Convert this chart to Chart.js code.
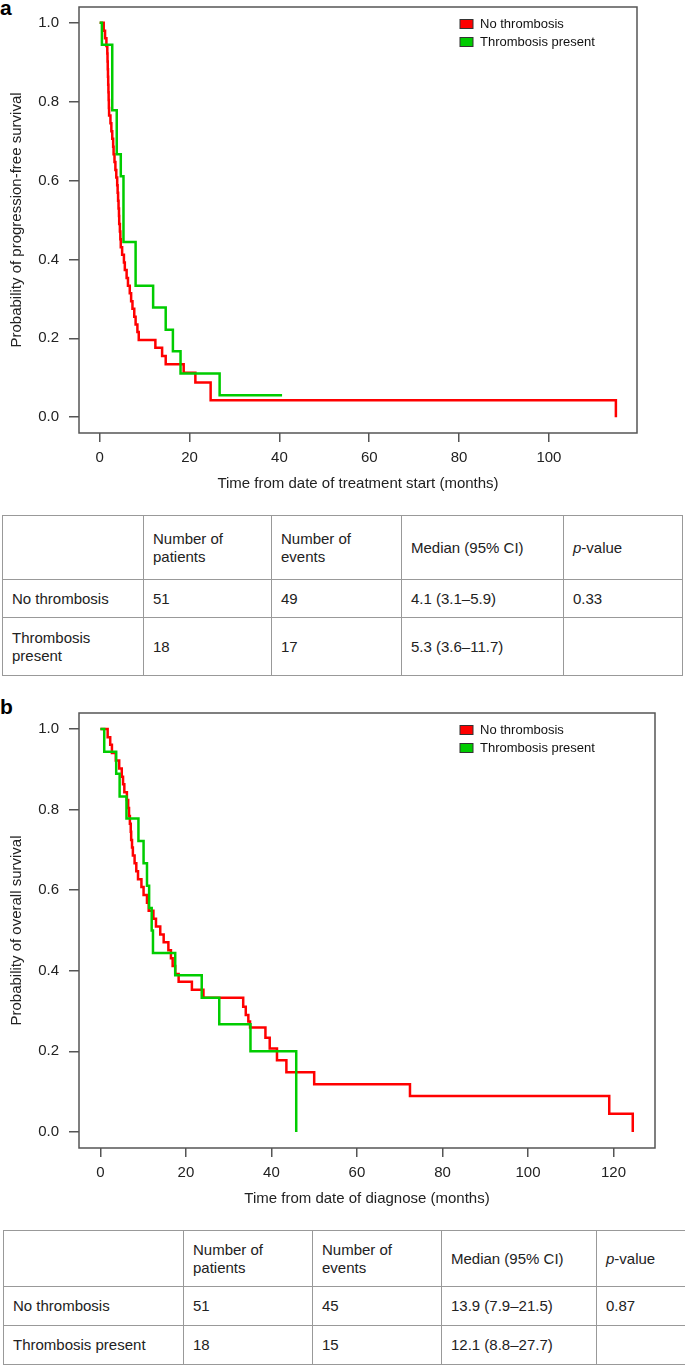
<!DOCTYPE html>
<html>
<head>
<meta charset="utf-8">
<script src="https://cdn.jsdelivr.net/npm/chart.js@4/dist/chart.umd.min.js"></script>
<style>
  body { margin: 0; background: #fff; width: 685px; height: 1366px; position: relative; overflow: hidden;
         font-family: "Liberation Sans", Arial, sans-serif; color: #222; }
  canvas { position: absolute; left: 0; }
  .panel { position: absolute; left: 0; font-weight: bold; font-size: 21px; color: #000; }
  table { position: absolute; border-collapse: collapse; font-size: 15px; table-layout: fixed; }
  td { border: 1px solid #999; padding: 0 0 0 9px; vertical-align: middle; line-height: 18px; }
</style>
</head>
<body>
<div class="panel" style="top:-4px">a</div>
<canvas id="chartA" width="685" height="500" style="top:0"></canvas>
<table id="tableA" style="left:2px; top:515px; width:680px"></table>

<div class="panel" style="top:695px">b</div>
<canvas id="chartB" width="685" height="510" style="top:700px"></canvas>
<table id="tableB" style="left:3px; top:1230px; width:682px"></table>

<script>
// Labels des groupes
const groupes = ["No thrombosis", "Thrombosis present"];

// a : survie sans progression (mois, probabilité)
const tempsRougeA = [0, 0.9, 1.2, 1.5, 1.7, 1.75, 1.8, 1.85, 1.9, 1.95, 2.0, 2.05, 2.1, 2.4, 2.6, 2.8, 3.0, 3.1, 3.3, 3.5, 3.7, 3.9, 4.0, 4.1, 4.2, 4.3, 4.35, 4.5, 4.6, 4.7, 5.0, 5.4, 5.6, 6.0, 6.3, 6.7, 7.0, 7.3, 7.7, 8.0, 8.4, 8.7, 12.4, 13.9, 14.7, 18.7, 21.3, 24.7, 114.9];
const survieRougeA = [1, 0.980, 0.961, 0.941, 0.922, 0.902, 0.882, 0.863, 0.843, 0.824, 0.804, 0.784, 0.765, 0.745, 0.725, 0.706, 0.686, 0.667, 0.647, 0.627, 0.608, 0.588, 0.569, 0.549, 0.529, 0.510, 0.490, 0.471, 0.451, 0.431, 0.412, 0.392, 0.373, 0.353, 0.333, 0.314, 0.294, 0.275, 0.255, 0.235, 0.216, 0.196, 0.176, 0.155, 0.134, 0.113, 0.088, 0.043, 0];
const tempsVertA = [0, 0.5, 2.8, 3.8, 4.7, 5.3, 8.0, 11.9, 14.7, 16.3, 18.0, 26.7, 40.6];
const survieVertA = [1, 0.944, 0.778, 0.667, 0.611, 0.444, 0.333, 0.278, 0.222, 0.167, 0.111, 0.056, 0.056];

// b : survie globale
const tempsRougeB = [0, 1.7, 2.3, 2.7, 3.6, 4.4, 5.0, 5.3, 5.6, 6.2, 6.5, 6.7, 6.9, 7.1, 7.2, 7.4, 7.6, 8.0, 8.4, 8.8, 9.6, 10.1, 10.9, 11.3, 12.4, 13.0, 14.0, 14.8, 15.9, 16.5, 16.9, 17.5, 18.3, 21.4, 24.1, 33.4, 34.0, 34.6, 35.0, 38.6, 39.6, 41.3, 43.5, 50.0, 72.4, 119.0, 124.5];
const survieRougeB = [1, 0.980, 0.961, 0.941, 0.922, 0.902, 0.882, 0.863, 0.843, 0.824, 0.804, 0.784, 0.765, 0.745, 0.725, 0.706, 0.686, 0.667, 0.647, 0.627, 0.608, 0.588, 0.569, 0.549, 0.529, 0.510, 0.490, 0.471, 0.451, 0.431, 0.412, 0.392, 0.373, 0.353, 0.333, 0.311, 0.290, 0.274, 0.259, 0.234, 0.207, 0.178, 0.148, 0.118, 0.089, 0.045, 0];
const tempsVertB = [0, 0.9, 3.7, 4.5, 6.1, 8.9, 10.1, 10.9, 11.4, 12.0, 12.3, 17.5, 23.7, 27.8, 35.1, 45.8];
const survieVertB = [1, 0.944, 0.889, 0.833, 0.778, 0.722, 0.667, 0.611, 0.556, 0.5, 0.444, 0.389, 0.333, 0.267, 0.2, 0];

// Graduations
const ticksXA = [0, 20, 40, 60, 80, 100];
const ticksXB = [0, 20, 40, 60, 80, 100, 120];
const ticksY = [0, 0.2, 0.4, 0.6, 0.8, 1.0];

// Tableaux
const entetes = ["", "Number of<br>patients", "Number of<br>events", "Median (95% CI)", "<i>p</i>-value"];
const lignesA = [
  ["No thrombosis", "51", "49", "4.1 (3.1–5.9)", "0.33"],
  ["Thrombosis<br>present", "18", "17", "5.3 (3.6–11.7)", ""]
];
const lignesB = [
  ["No thrombosis", "51", "45", "13.9 (7.9–21.5)", "0.87"],
  ["Thrombosis present", "18", "15", "12.1 (8.8–27.7)", ""]
];

const ROUGE = "#ff0000";
const VERT = "#00cc00";

function points(t, s) { return t.map((x, i) => ({ x: x, y: s[i] })); }

// cadre autour de la zone du graphe + légende dessinée à la main
const cadrePlugin = {
  id: "cadre",
  afterDatasetsDraw(chart) {
    const { ctx, chartArea: a } = chart;
    ctx.save();
    ctx.strokeStyle = "#555";
    ctx.lineWidth = 1.5;
    ctx.strokeRect(a.left, a.top, a.right - a.left, a.bottom - a.top);
    // légende
    ctx.font = "13px 'Liberation Sans', Arial, sans-serif";
    ctx.textBaseline = "middle";
    chart.data.datasets.forEach((ds, i) => {
      const x = a.left + 381, y = a.top + 17 + i * 18;
      ctx.fillStyle = ds.borderColor;
      ctx.fillRect(x, y - 4.5, 13, 9);
      ctx.strokeStyle = "#333";
      ctx.lineWidth = 1;
      ctx.strokeRect(x, y - 4.5, 13, 9);
      ctx.fillStyle = "#111";
      ctx.fillText(ds.label, x + 20, y + 0.5);
    });
    ctx.restore();
  }
};

function makeChart(id, rouge, vert, xMin, xMax, xTicks, titreX, titreY, pad, hautX, titreBas) {
  const police = { family: "'Liberation Sans', Arial, sans-serif", size: 15 };
  return new Chart(document.getElementById(id), {
    type: "line",
    data: {
      datasets: [
        { label: groupes[0], data: rouge, borderColor: ROUGE, backgroundColor: ROUGE, borderWidth: 2.5, stepped: true, pointRadius: 0, order: 1 },
        { label: groupes[1], data: vert, borderColor: VERT, backgroundColor: VERT, borderWidth: 2.5, stepped: true, pointRadius: 0, order: 0 }
      ]
    },
    options: {
      responsive: false,
      animation: false,
      layout: { padding: pad },
      plugins: { legend: { display: false }, tooltip: { enabled: false } },
      scales: {
        x: {
          type: "linear", min: xMin, max: xMax,
          afterBuildTicks: s => { s.ticks = xTicks.map(v => ({ value: v })); },
          afterFit: s => { s.height = hautX; s.paddingLeft = 0; s.paddingRight = 0; },
          border: { display: false },
          grid: { drawOnChartArea: false, drawTicks: true, tickLength: 9, tickColor: "#555", lineWidth: 1.5 },
          ticks: { color: "#222", font: police, padding: 7, maxRotation: 0 },
          title: { display: true, text: titreX, color: "#222", font: police, padding: { top: 0, bottom: titreBas } }
        },
        y: {
          type: "linear", min: -0.04, max: 1.04,
          afterBuildTicks: s => { s.ticks = ticksY.map(v => ({ value: v })); },
          afterFit: s => { s.width = 79; s.paddingTop = 0; s.paddingBottom = 0; },
          border: { display: false },
          grid: { drawOnChartArea: false, drawTicks: true, tickLength: 10, tickColor: "#555", lineWidth: 1.5 },
          ticks: { color: "#222", font: police, padding: 10, callback: v => v.toFixed(1) },
          title: { display: true, text: titreY, color: "#222", font: police, padding: { top: 8, bottom: 0 } }
        }
      }
    },
    plugins: [cadrePlugin]
  });
}

function remplirTableau(id, lignes, hauteurs, largeurs) {
  const tab = document.getElementById(id);
  let html = "<colgroup>" + largeurs.map(w => `<col style="width:${w}px">`).join("") + "</colgroup>";
  [entetes].concat(lignes).forEach((l, i) => {
    html += `<tr style="height:${hauteurs[i]}px">` + l.map(c => `<td>${c}</td>`).join("") + "</tr>";
  });
  tab.innerHTML = html;
}

makeChart("chartA", points(tempsRougeA, survieRougeA), points(tempsVertA, survieVertA), -4.6, 119.6, ticksXA,
  "Time from date of treatment start (months)", "Probability of progression-free survival",
  { left: 0, right: 48, top: 7, bottom: 0 }, 67, 7);

makeChart("chartB", points(tempsRougeB, survieRougeB), points(tempsVertB, survieVertB), -5, 129.7, ticksXB,
  "Time from date of diagnose (months)", "Probability of overall survival",
  { left: 0, right: 30, top: 13, bottom: 0 }, 62, 2);

remplirTableau("tableA", lignesA, [64, 38, 58], [141, 128, 130, 162, 119]);
remplirTableau("tableB", lignesB, [56, 39, 39], [180, 129, 129, 155, 89]);
</script>
</body>
</html>
